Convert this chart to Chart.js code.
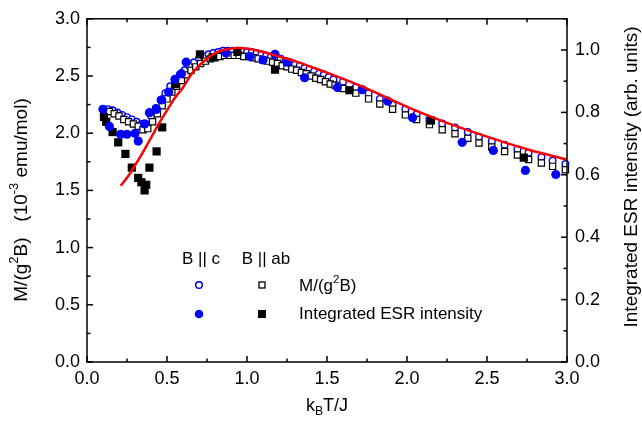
<!DOCTYPE html>
<html>
<head>
<meta charset="utf-8">
<script src="https://cdn.jsdelivr.net/npm/chart.js@4/dist/chart.umd.min.js"></script>
<style>
html,body{margin:0;padding:0;background:#fff;}
canvas{display:block;}
</style>
</head>
<body>
<canvas id="c" width="642" height="424"></canvas>
<script>
// ---- data (x = kB T / J) ----
const tC = [0.10,0.13,0.16,0.19,0.22,0.25,0.28,0.31,0.34,0.37,0.40,0.43,0.46,0.49,0.52,0.55,0.58,0.61,0.64,0.67,0.70,0.73,0.76,0.79,0.82,0.85,0.88,0.91,0.94,0.97,1.00,1.03,1.06,1.09,1.12,1.15,1.18,1.21,1.24,1.27,1.30,1.33,1.36,1.39,1.42,1.45,1.48,1.51,1.54,1.60,1.68,1.76,1.83,1.91,1.99,2.06,2.14,2.22,2.30,2.38,2.45,2.53,2.61,2.69,2.76,2.84,2.91,2.99];
const mC = [2.21,2.21,2.20,2.18,2.16,2.14,2.12,2.10,2.08,2.08,2.15,2.22,2.29,2.35,2.41,2.46,2.51,2.55,2.59,2.62,2.65,2.67,2.69,2.70,2.71,2.72,2.72,2.72,2.72,2.72,2.71,2.71,2.70,2.69,2.68,2.67,2.66,2.65,2.63,2.62,2.60,2.59,2.57,2.56,2.54,2.52,2.51,2.49,2.47,2.45,2.40,2.35,2.30,2.25,2.21,2.165,2.12,2.085,2.05,2.01,1.97,1.93,1.90,1.86,1.83,1.79,1.76,1.73];

const tAB = [0.14,0.17,0.20,0.23,0.26,0.29,0.32,0.35,0.38,0.41,0.44,0.47,0.50,0.53,0.56,0.59,0.62,0.65,0.68,0.71,0.74,0.77,0.80,0.83,0.86,0.89,0.92,0.95,0.98,1.01,1.04,1.07,1.10,1.13,1.16,1.19,1.22,1.25,1.28,1.31,1.34,1.37,1.40,1.43,1.46,1.49,1.52,1.55,1.60,1.68,1.76,1.83,1.91,1.99,2.06,2.14,2.22,2.30,2.38,2.45,2.53,2.61,2.69,2.76,2.84,2.91,2.99];
const mAB = [2.19,2.17,2.15,2.12,2.10,2.08,2.06,2.03,2.04,2.10,2.17,2.24,2.30,2.36,2.41,2.46,2.51,2.55,2.58,2.61,2.63,2.65,2.66,2.67,2.68,2.68,2.68,2.68,2.67,2.67,2.66,2.65,2.64,2.63,2.62,2.61,2.59,2.58,2.56,2.55,2.53,2.52,2.50,2.48,2.47,2.45,2.43,2.42,2.39,2.35,2.30,2.255,2.21,2.16,2.12,2.075,2.03,1.995,1.955,1.915,1.88,1.84,1.81,1.77,1.74,1.71,1.68];

// Integrated ESR intensity (right axis, arb. units)
const tEsrC = [0.10,0.14,0.21,0.25,0.30,0.32,0.36,0.39,0.435,0.467,0.51,0.55,0.59,0.62,0.87,1.02,1.10,1.175,1.25,1.36,1.565,1.72,1.88,2.035,2.345,2.54,2.74,2.93];
const esrC  = [0.810,0.755,0.730,0.730,0.733,0.708,0.763,0.799,0.810,0.840,0.865,0.906,0.924,0.961,0.990,0.979,0.968,0.986,0.961,0.911,0.880,0.873,0.836,0.783,0.704,0.678,0.614,0.601];

const tEsrAB = [0.106,0.12,0.16,0.195,0.24,0.28,0.32,0.34,0.36,0.37,0.39,0.435,0.47,0.55,0.706,0.785,0.94,1.175,1.64,2.15,2.73];
const esrAB  = [0.785,0.770,0.737,0.704,0.667,0.623,0.590,0.576,0.550,0.568,0.623,0.675,0.752,0.891,0.986,0.977,0.994,0.937,0.871,0.774,0.655];

// model curve
const tModel = [0.21,0.26,0.30,0.34,0.38,0.42,0.46,0.50,0.55,0.60,0.65,0.70,0.75,0.80,0.85,0.90,0.95,1.00,1.10,1.20,1.30,1.40,1.50,1.75,2.00,2.25,2.50,2.75,3.00];
const mModel = [1.54,1.63,1.72,1.81,1.91,2.01,2.11,2.20,2.31,2.40,2.51,2.59,2.65,2.70,2.725,2.74,2.745,2.74,2.71,2.67,2.63,2.58,2.53,2.39,2.23,2.09,1.97,1.86,1.77];

const xTicksMajor = [0,0.5,1.0,1.5,2.0,2.5,3.0];
const yTicksMajor = [0,0.5,1.0,1.5,2.0,2.5,3.0];
const y1TicksMajor = [0,0.2,0.4,0.6,0.8,1.0];

const FONT = '"Liberation Sans", Arial, sans-serif';
const BLUE = '#0000ff';

const pts = (xs, ys) => xs.map((v,i)=>({x:v, y:ys[i]}));

function drawRuns(ctx, parts, cx, cy, size){
  let w = 0;
  parts.forEach(p=>{
    const fs = p.s ? size*0.68 : size;
    ctx.font = fs + 'px ' + FONT;
    p.w = ctx.measureText(p.t).width; w += p.w;
  });
  let x = cx - w/2;
  ctx.textBaseline = 'middle';
  ctx.textAlign = 'left';
  parts.forEach(p=>{
    const fs = p.s ? size*0.68 : size;
    ctx.font = fs + 'px ' + FONT;
    const dy = p.s === 1 ? -size*0.38 : (p.s === -1 ? size*0.33 : 0);
    ctx.fillText(p.t, x, cy + dy);
    x += p.w;
  });
}

function drawRunsLeft(ctx, parts, x0, cy, size){
  let w = 0;
  parts.forEach(p=>{
    const fs = p.s ? size*0.68 : size;
    ctx.font = fs + 'px ' + FONT; w += ctx.measureText(p.t).width;
  });
  drawRuns(ctx, parts, x0 + w/2, cy, size);
}

const decor = {
  id: 'decor',
  afterDatasetsDraw(chart){
    const {ctx, chartArea:a, scales} = chart;
    const x = scales.x, y = scales.y, y1 = scales.y1;
    ctx.save();
    ctx.strokeStyle = '#000';
    ctx.lineWidth = 1.5;
    ctx.strokeRect(a.left, a.top, a.right-a.left, a.bottom-a.top);
    const seg = (x0,y0,x1,y1_)=>{ctx.beginPath();ctx.moveTo(x0,y0);ctx.lineTo(x1,y1_);ctx.stroke();};
    const MAJ = 6, MIN = 3.5;
    xTicksMajor.forEach((v,i)=>{
      const p = x.getPixelForValue(v);
      seg(p, a.bottom, p, a.bottom-MAJ); seg(p, a.top, p, a.top+MAJ);
      if (i < xTicksMajor.length-1){
        const m = x.getPixelForValue((v + xTicksMajor[i+1])/2);
        seg(m, a.bottom, m, a.bottom-MIN); seg(m, a.top, m, a.top+MIN);
      }
    });
    yTicksMajor.forEach((v,i)=>{
      const p = y.getPixelForValue(v);
      seg(a.left, p, a.left+MAJ, p);
      if (i < yTicksMajor.length-1){
        const m = y.getPixelForValue((v + yTicksMajor[i+1])/2);
        seg(a.left, m, a.left+MIN, m);
      }
    });
    y1TicksMajor.forEach((v,i)=>{
      const p = y1.getPixelForValue(v);
      seg(a.right, p, a.right-MAJ, p);
      const m = y1.getPixelForValue(v + 0.1);
      if (m >= a.top - 0.5) seg(a.right, m, a.right-MIN, m);
    });
    ctx.restore();
  },
  afterDraw(chart){
    const {ctx, chartArea:a} = chart;
    ctx.save();
    ctx.fillStyle = '#000';
    drawRuns(ctx, [{t:'k'},{t:'B',s:-1},{t:'T/J'}], (a.left+a.right)/2, 406, 18);
    ctx.save();
    ctx.translate(22, 200);
    ctx.rotate(-Math.PI/2);
    drawRuns(ctx, [{t:'M/(g'},{t:'2',s:1},{t:'B)   (10'},{t:'-3',s:1},{t:' emu/mol)'}], 0, 0, 19);
    ctx.restore();
    ctx.save();
    ctx.translate(632, 177);
    ctx.rotate(-Math.PI/2);
    drawRuns(ctx, [{t:'Integrated ESR intensity (arb. units)'}], 0, 0, 19);
    ctx.restore();

    // legend
    ctx.font = '17px ' + FONT;
    ctx.textBaseline = 'middle';
    ctx.textAlign = 'center';
    ctx.fillText('B || c', 201, 259);
    ctx.fillText('B || ab', 266, 259);
    ctx.lineWidth = 1.5;
    ctx.strokeStyle = BLUE; ctx.fillStyle = '#fff';
    ctx.beginPath(); ctx.arc(199, 285, 3.3, 0, Math.PI*2); ctx.fill(); ctx.stroke();
    ctx.strokeStyle = '#000';
    ctx.lineWidth = 1.3;
    ctx.fillRect(259, 282, 6, 6); ctx.strokeRect(259, 282, 6, 6);
    ctx.fillStyle = BLUE;
    ctx.beginPath(); ctx.arc(199, 314, 4.3, 0, Math.PI*2); ctx.fill();
    ctx.fillStyle = '#000';
    ctx.fillRect(258, 310, 8, 8);
    ctx.fillStyle = '#000';
    drawRunsLeft(ctx, [{t:'M/(g'},{t:'2',s:1},{t:'B)'}], 299, 286, 17);
    ctx.font = '17px ' + FONT;
    ctx.textAlign = 'left';
    ctx.fillText('Integrated ESR intensity', 299, 314);
    ctx.restore();
  }
};

new Chart(document.getElementById('c'), {
  type: 'scatter',
  data: {
    datasets: [
      { label: 'model', data: pts(tModel, mModel), yAxisID: 'y', showLine: true,
        borderColor: '#ff0000', borderWidth: 2.5, pointRadius: 0, tension: 0.4,
        cubicInterpolationMode: 'monotone', fill: false, order: 0 },
      { label: 'ESR c', data: pts(tEsrC, esrC), yAxisID: 'y1', pointStyle: 'circle',
        pointRadius: 4.6, backgroundColor: BLUE, borderColor: BLUE, borderWidth: 0, order: 1 },
      { label: 'ESR ab', data: pts(tEsrAB, esrAB), yAxisID: 'y1', pointStyle: 'rect',
        pointRadius: 5.8, backgroundColor: '#000', borderColor: '#000', borderWidth: 0, order: 2 },
      { label: 'M ab', data: pts(tAB, mAB), yAxisID: 'y', pointStyle: 'rect',
        pointRadius: 4.4, backgroundColor: '#fff', borderColor: '#000', borderWidth: 1.2, order: 3 },
      { label: 'M c', data: pts(tC, mC), yAxisID: 'y', pointStyle: 'circle',
        pointRadius: 3.3, backgroundColor: '#fff', borderColor: BLUE, borderWidth: 1.4, order: 4 }
    ]
  },
  options: {
    responsive: false,
    devicePixelRatio: 1,
    animation: false,
    clip: false,
    layout: { padding: { top: 10, left: 0, right: 0, bottom: 0 } },
    plugins: { legend: { display: false }, tooltip: { enabled: false } },
    elements: { point: { hoverRadius: 0 } },
    scales: {
      x: {
        type: 'linear', position: 'bottom', min: 0, max: 3,
        grid: { display: false, drawTicks: false },
        border: { display: false },
        ticks: { stepSize: 0.5, padding: 6, color: '#000', font: { size: 18, family: FONT },
                 callback: v => v.toFixed(1), maxRotation: 0 },
        afterFit: s => { s.height = 62; }
      },
      y: {
        type: 'linear', position: 'left', min: 0, max: 3,
        grid: { display: false, drawTicks: false },
        border: { display: false },
        ticks: { stepSize: 0.5, padding: 7, color: '#000', font: { size: 18, family: FONT },
                 callback: v => v.toFixed(1) },
        afterFit: s => { s.width = 87; }
      },
      y1: {
        type: 'linear', position: 'right', min: 0, max: 1.1,
        grid: { display: false, drawTicks: false },
        border: { display: false },
        ticks: { stepSize: 0.2, padding: 8, color: '#000', font: { size: 18, family: FONT },
                 callback: v => v.toFixed(1) },
        afterBuildTicks: s => { s.ticks = y1TicksMajor.map(v => ({ value: v })); },
        afterFit: s => { s.width = 75; }
      }
    }
  },
  plugins: [decor]
});
</script>
</body>
</html>
